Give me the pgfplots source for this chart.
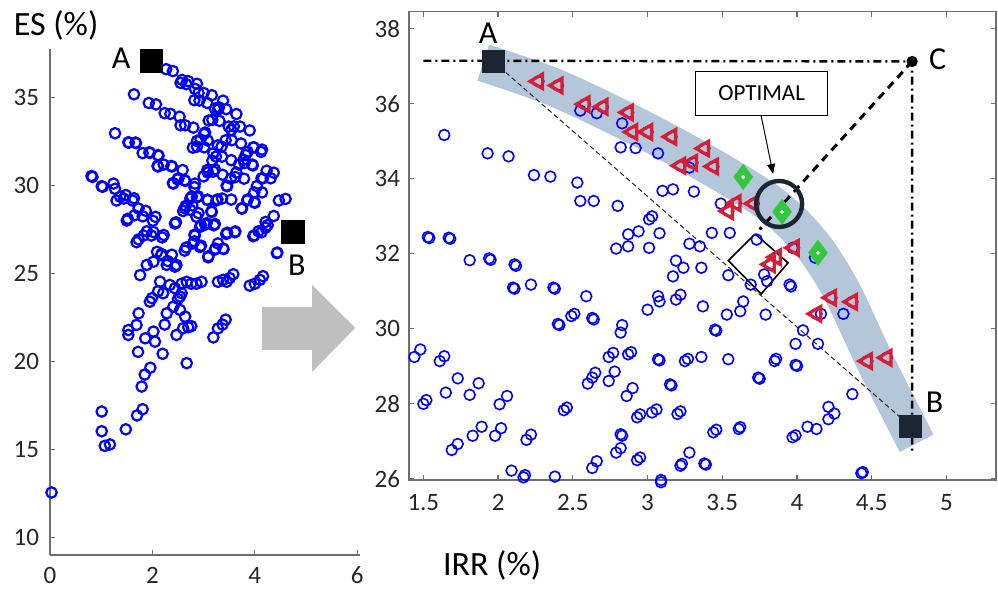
\documentclass[border=0pt]{standalone}
\usepackage{fontspec}
\setmainfont{Carlito}
\usepackage{pgfplots}
\usepackage{pgfplotstable}
\pgfplotsset{compat=1.18}
\usetikzlibrary{arrows.meta}

\definecolor{band}{RGB}{180,198,218}
\definecolor{sq}{RGB}{28,38,50}
\definecolor{axgray}{RGB}{110,110,110}
\definecolor{txt}{RGB}{38,38,38}
\definecolor{grn}{RGB}{50,200,60}
\definecolor{tri}{RGB}{215,30,50}

% all solutions (blue circles)
\pgfplotstableread{
x y
1.64 35.17
1.93 34.68
2.07 34.60
2.24 34.10
2.35 34.06
2.53 33.90
2.55 33.41
2.64 33.41
2.80 33.28
1.53 32.45
1.54 32.42
1.67 32.43
1.68 32.40
1.81 31.83
1.94 31.88
1.95 31.84
2.11 31.72
2.12 31.68
2.10 31.10
2.11 31.07
2.22 31.18
2.37 31.10
2.38 31.07
2.59 30.87
2.55 35.82
2.66 35.75
2.83 35.48
2.82 34.84
2.92 34.82
3.07 34.68
3.28 34.30
3.10 33.68
3.17 33.72
3.31 33.66
2.87 32.52
2.94 32.60
3.01 32.92
3.03 33.00
3.08 32.55
2.79 32.14
2.87 32.20
3.01 32.16
3.28 32.27
3.35 32.20
3.43 32.56
3.55 32.56
3.49 33.34
3.19 31.82
3.24 31.63
3.36 31.63
3.17 31.40
3.54 31.43
3.73 32.38
3.78 31.45
3.80 31.27
3.69 31.18
3.95 31.18
4.12 31.90
3.97 32.16
3.07 30.87
3.22 30.91
3.19 30.78
3.08 30.73
3.00 30.51
3.37 30.60
3.53 30.38
3.62 30.47
3.64 30.73
3.79 30.38
3.96 31.13
2.40 30.13
2.41 30.10
2.49 30.34
2.51 30.40
2.63 30.29
2.64 30.25
2.83 30.10
2.82 29.90
3.45 29.98
3.46 29.95
4.04 29.96
3.99 29.60
4.14 29.60
1.44 29.25
1.48 29.45
1.61 29.14
1.64 29.27
2.74 29.25
2.77 29.36
2.87 29.32
2.89 29.38
3.07 29.19
3.08 29.16
3.25 29.14
3.27 29.20
3.36 29.25
3.54 29.19
3.85 29.14
3.86 29.20
3.99 29.04
4.00 29.01
1.73 28.68
1.65 28.30
1.87 28.55
1.81 28.24
1.50 28.00
1.52 28.10
2.01 27.99
2.06 28.21
2.65 28.83
2.63 28.70
2.60 28.54
2.74 28.61
2.78 28.86
2.86 28.21
2.90 28.42
3.15 28.52
3.16 28.49
3.74 28.70
3.75 28.67
4.37 28.26
2.44 27.83
2.46 27.90
2.82 27.19
2.83 27.15
2.79 26.70
2.82 26.82
2.93 27.64
2.95 27.72
3.03 27.77
3.06 27.85
3.20 27.73
3.22 27.80
3.44 27.24
3.46 27.31
3.61 27.33
3.62 27.38
3.97 27.11
3.99 27.16
4.07 27.39
4.13 27.33
4.21 27.92
4.25 27.74
4.21 27.59
1.69 26.77
1.73 26.93
1.83 27.15
1.89 27.39
1.98 27.15
2.02 27.35
2.19 27.04
2.22 27.18
2.63 26.29
2.66 26.47
2.93 26.50
2.95 26.57
3.22 26.35
3.23 26.40
3.28 26.70
3.38 26.41
3.39 26.38
2.09 26.22
2.17 26.04
2.18 26.10
2.38 26.06
3.09 25.97
4.43 26.15
4.44 26.18
4.16 30.40
4.31 30.40
0.81 30.53
0.83 30.48
1.01 29.95
1.03 29.92
1.24 30.10
1.27 29.80
1.30 29.14
1.37 29.35
1.27 32.96
1.76 24.90
1.89 25.48
2.02 25.66
2.28 25.48
2.47 25.48
2.15 24.53
2.34 24.34
2.44 24.15
2.21 23.87
1.99 23.59
1.95 23.39
2.54 23.68
2.41 23.11
2.28 22.73
2.54 22.92
2.64 22.54
1.73 22.73
1.53 21.78
1.69 22.07
1.53 21.50
2.02 21.69
1.86 21.31
2.05 21.12
2.47 21.50
2.60 21.88
2.11 23.98
2.57 23.87
2.50 23.55
2.20 20.43
2.70 21.94
2.76 22.00
2.67 19.90
3.19 21.36
3.28 21.87
3.37 22.09
3.43 22.37
1.72 20.54
1.79 18.57
1.85 19.25
1.96 19.64
1.70 16.93
1.81 17.28
1.48 16.14
1.01 17.15
1.01 16.03
1.07 15.20
1.17 15.28
0.03 12.55
2.24 22.09
2.30 25.70
2.44 25.38
2.57 24.41
2.67 24.52
2.76 24.41
2.86 24.41
2.96 24.52
3.28 24.52
3.38 24.63
3.45 24.52
3.51 24.73
3.58 24.95
3.09 25.91
3.90 24.30
4.00 24.41
4.10 24.63
4.16 24.84
}\allpts

% frontier solutions (red triangles)
\pgfplotstableread{
x y
2.27 36.60
2.40 36.49
2.58 35.99
2.70 35.92
2.87 35.77
2.90 35.25
3.00 35.25
3.16 35.12
3.38 34.81
3.22 34.35
3.30 34.43
3.44 34.33
3.54 33.14
3.59 33.35
3.71 33.34
3.82 31.72
3.86 31.91
3.98 32.16
4.23 30.83
4.37 30.72
4.13 30.40
4.47 29.14
4.60 29.23
}\tri

% best compromise candidates (green diamonds)
\pgfplotstableread{
x y
3.64 34.05
3.90 33.12
4.14 32.03
}\grnpts

\begin{document}
\begin{tikzpicture}
\path[use as bounding box] (0,0) rectangle (499pt,296pt);

% ---------- left: all solutions ----------
\begin{axis}[
  at={(25pt,18.5pt)}, anchor=south west, scale only axis,
  width=154.9pt, height=253pt,
  xmin=0, xmax=6.05, ymin=9, ymax=37.75,
  axis lines=left, axis line style={-, axgray, line width=0.6pt},
  tick align=inside, major tick length=2.5pt,
  tick style={axgray, line width=0.6pt},
  xtick={0,2,4,6}, ytick={10,15,...,35},
  tick label style={font=\fontsize{12.5}{13}\selectfont, text=txt},
  xticklabel style={yshift=-2.5pt},
  yticklabel style={xshift=-2pt},
  /pgf/number format/assume math mode=true,
  clip=false,
]
\addplot[only marks, mark=o, mark size=2.6pt, blue, mark options={line width=1.1pt}] table {\allpts};
\addplot[only marks, mark=o, mark size=2.6pt, blue, mark options={line width=1.1pt}] table {\tri};
\addplot[only marks, mark=o, mark size=2.6pt, blue, mark options={line width=1.1pt}] table {\grnpts};
\addplot[only marks, mark=square*, mark size=5.7pt, black] coordinates {(1.98,37.08) (4.75,27.37)};
\fill[black!25] (axis cs:4.14,23.09) -- (axis cs:5.12,23.09) -- (axis cs:5.12,24.34)
  -- (axis cs:5.96,21.9) -- (axis cs:5.12,19.4) -- (axis cs:5.12,20.65)
  -- (axis cs:4.14,20.65) -- cycle;
\node[font=\fontsize{16}{16}\selectfont, text=black] at (axis cs:1.39,37.24) {A};
\node[font=\fontsize{16}{16}\selectfont, text=black] at (axis cs:4.82,25.48) {B};
\node[font=\fontsize{17}{17}\selectfont, text=black] at (axis cs:0.12,39.1) {ES (\%)};
\end{axis}

% ---------- right: zoom on the frontier ----------
\begin{axis}[
  at={(204.5pt,56pt)}, anchor=south west, scale only axis,
  width=293.5pt, height=234.2pt,
  xmin=1.404, xmax=5.331, ymin=25.97, ymax=38.46,
  axis line style={axgray, line width=0.6pt},
  tick align=inside, major tick length=2.5pt,
  tick style={axgray, line width=0.6pt},
  xtick={1.5,2,...,5}, ytick={26,28,...,38},
  tick label style={font=\fontsize{12.5}{13}\selectfont, text=txt},
  xticklabel style={yshift=-3.5pt},
  yticklabel style={xshift=-1pt},
  /pgf/number format/assume math mode=true,
  clip=false,
]
% Pareto band
\addplot[smooth, band, line width=19pt, line cap=butt] coordinates {
  (1.90,37.10) (2.40,36.40) (3.00,35.25) (3.50,34.15) (3.85,33.25)
  (4.10,32.25) (4.30,31.00) (4.52,29.14) (4.80,26.95)};
\addplot[only marks, mark=o, mark size=2.7pt, blue, mark options={line width=0.8pt},
  restrict x to domain=1.39:5.4, restrict y to domain=25.9:39] table {\allpts};
\addplot[only marks, mark=o, mark size=2.7pt, blue, mark options={line width=0.8pt}] table {\tri};
% A--B chord
\addplot[black!85, line width=0.5pt, dash pattern=on 2.5pt off 1.5pt] coordinates {(1.97,37.12) (4.76,27.40)};
% ideal point C construction
\addplot[black, line width=1.2pt, dash pattern=on 4pt off 2pt on 1pt off 2pt] coordinates {
  (1.50,37.15) (4.77,37.13) (4.77,26.75)};
\addplot[black, line width=1.5pt, dash pattern=on 4pt off 3pt] coordinates {(4.77,37.13) (3.75,32.65)};
\addplot[black, line width=0.8pt] coordinates {
  (3.72,32.53) (3.94,31.76) (3.76,30.93) (3.54,31.82) (3.72,32.53)};
\addplot[only marks, mark=triangle, mark size=4.2pt, mark options={rotate=90, draw=tri, line width=1.6pt}] table {\tri};
\addplot[only marks, mark=diamond*, mark size=6.2pt, mark options={draw=grn, fill=grn}] table {\grnpts};
\addplot[only marks, mark=*, mark size=0.8pt, mark options={draw=white, fill=white}] table {\grnpts};
\addplot[only marks, mark=o, mark size=11.5pt, sq, mark options={line width=2.2pt}] coordinates {(3.88,33.33)};
\addplot[only marks, mark=square*, mark size=5.5pt, sq] coordinates {(1.97,37.12) (4.76,27.40)};
\addplot[only marks, mark=*, mark size=2.6pt, black] coordinates {(4.77,37.13)};
\draw[black, line width=0.5pt, -{Triangle[length=5pt,width=4pt]}] (axis cs:3.76,35.68) -- (axis cs:3.84,34.13);
\node[draw=black, fill=white, line width=0.7pt, minimum width=66pt, minimum height=22pt,
  font=\fontsize{11.5}{12}\selectfont] at (axis cs:3.763,36.28) {OPTIMAL};
\node[font=\fontsize{16}{16}\selectfont] at (axis cs:1.934,37.87) {A};
\node[font=\fontsize{16}{16}\selectfont] at (axis cs:4.94,37.20) {C};
\node[font=\fontsize{16}{16}\selectfont] at (axis cs:4.92,28.05) {B};
\node[font=\fontsize{17}{17}\selectfont] at (axis cs:1.96,23.68) {IRR (\%)};
\end{axis}
\end{tikzpicture}
\end{document}
